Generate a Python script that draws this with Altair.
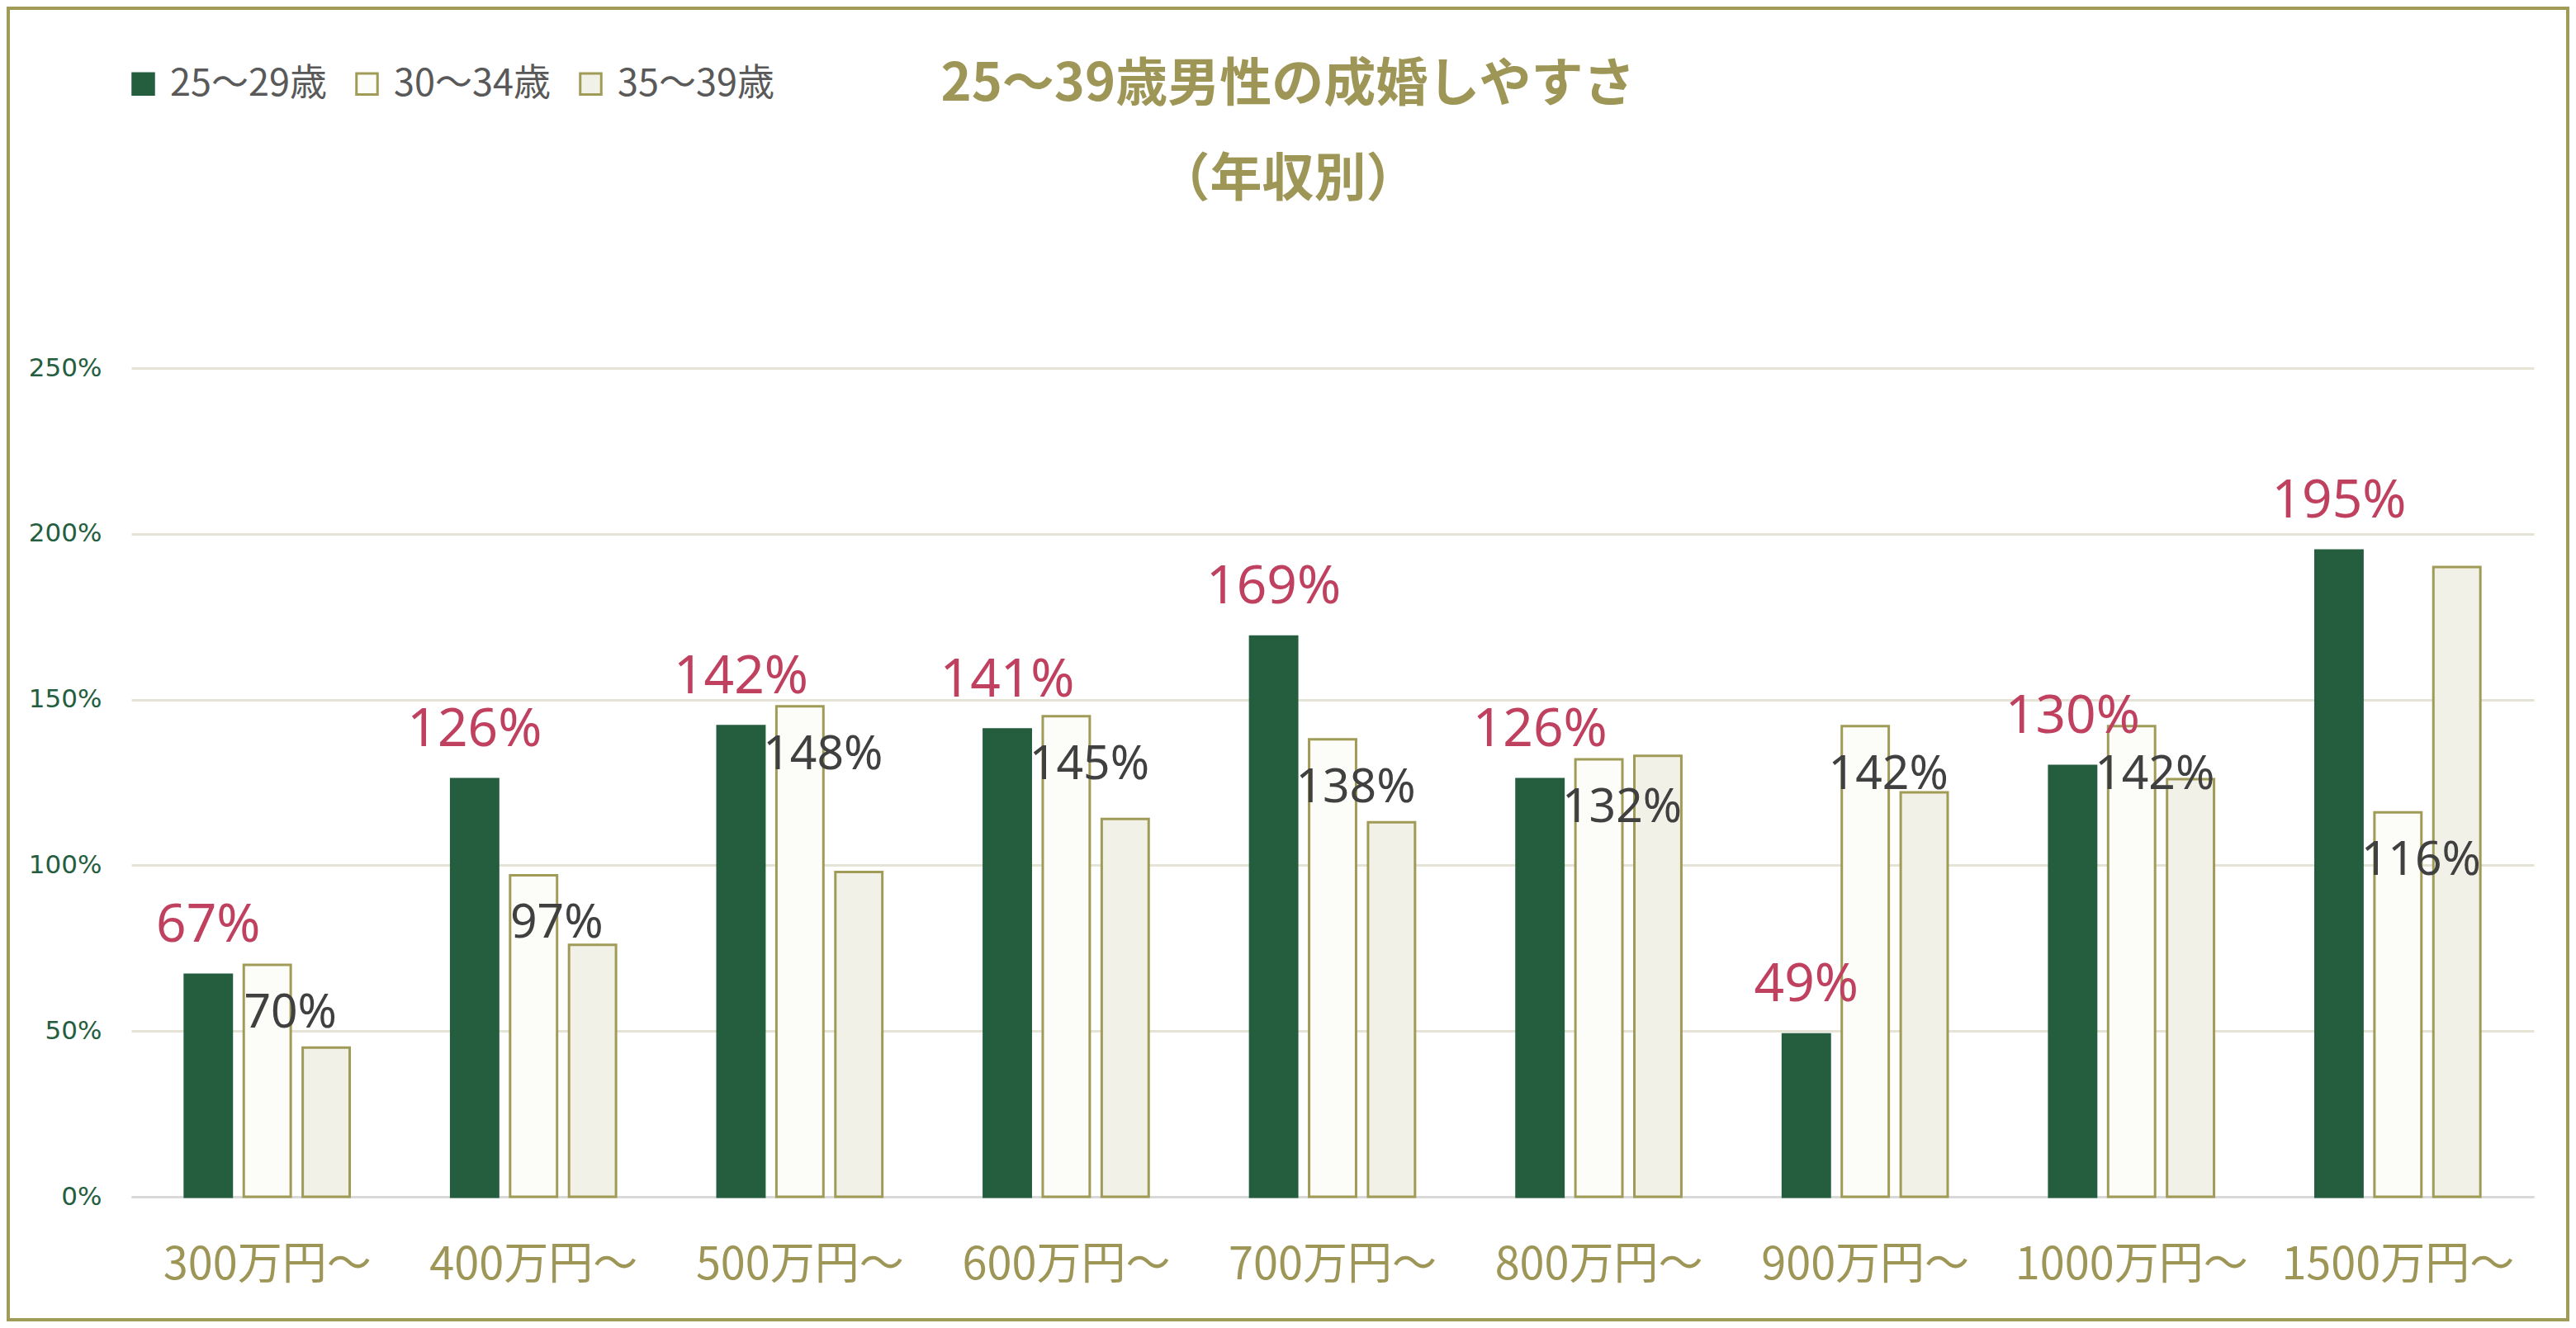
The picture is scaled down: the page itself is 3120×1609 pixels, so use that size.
import altair as alt
import pandas as pd

categories = ["300万円～", "400万円～", "500万円～", "600万円～", "700万円～",
              "800万円～", "900万円～", "1000万円～", "1500万円～"]
series = ["25～29歳", "30～34歳", "35～39歳"]
age_25_29 = [0.67, 1.26, 1.42, 1.41, 1.69, 1.26, 0.49, 1.30, 1.95]
age_30_34 = [0.70, 0.97, 1.48, 1.45, 1.38, 1.32, 1.42, 1.42, 1.16]
age_35_39 = [0.45, 0.76, 0.98, 1.14, 1.13, 1.33, 1.22, 1.26, 1.90]
y_ticks = [0, 0.5, 1.0, 1.5, 2.0, 2.5]

rows = []
for s, vals in zip(series, [age_25_29, age_30_34, age_35_39]):
    for c, v in zip(categories, vals):
        rows.append({"cat": c, "series": s, "value": v})
df = pd.DataFrame(rows)

GREEN = "#245E3F"
OLIVE = "#A09B57"
WHITE_FILL = "#FCFCF9"
BEIGE_FILL = "#F2F1E7"
RED = "#C0415F"
TITLE_C = "#9E9656"

W, H = 2910, 1004
PAD = {"left": 151, "top": 438, "right": 43, "bottom": 151}

cjk = "Noto Sans CJK JP"

x_enc = alt.X("cat:N", sort=categories,
              scale=alt.Scale(paddingInner=0.381, paddingOuter=0.201),
              axis=alt.Axis(title=None, labelAngle=0, ticks=False, grid=False,
                            labelFont=cjk, labelFontSize=54, labelColor=TITLE_C,
                            labelLimit=0, labelPadding=56,
                            domainColor="#D9D9D9", domainWidth=3))
xo_enc = alt.XOffset("series:N", sort=series,
                     scale=alt.Scale(domain=series, paddingInner=0.203, paddingOuter=0))
y_enc = alt.Y("value:Q", scale=alt.Scale(domain=[0, 2.5], nice=False),
              axis=alt.Axis(title=None, values=y_ticks, format=".0%", domain=False,
                            ticks=False, labelFont="DejaVu Sans", labelFontSize=31,
                            labelColor=GREEN, labelPadding=36, gridColor="#E5E3D5",
                            gridWidth=3))

base = alt.Chart(df)

bars = base.mark_bar(strokeWidth=3).encode(
    x=x_enc,
    xOffset=xo_enc,
    y=y_enc,
    color=alt.Color("series:N", sort=series,
                    scale=alt.Scale(domain=series, range=[GREEN, WHITE_FILL, BEIGE_FILL]),
                    legend=alt.Legend(title=None)),
    stroke=alt.Stroke("series:N", sort=series,
                      scale=alt.Scale(domain=series, range=[GREEN, OLIVE, OLIVE]),
                      legend=alt.Legend(title=None)),
)

red_labels = base.transform_filter(alt.datum.series == series[0]).mark_text(
    font="Noto Sans", fontSize=64, color=RED, align="center", baseline="alphabetic", dy=-40
).encode(x=x_enc, xOffset=xo_enc, y=y_enc, text=alt.Text("value:Q", format=".0%"))

grey_labels = base.transform_filter(alt.datum.series == series[1]).mark_text(
    font="Noto Sans", fontSize=57, color="#404040", align="center", baseline="alphabetic",
    dx=28, dy=76
).encode(x=x_enc, xOffset=xo_enc, y=y_enc, text=alt.Text("value:Q", format=".0%"))

frame = alt.Chart(pd.DataFrame({"f": [0]})).mark_rect(
    fillOpacity=0, stroke=OLIVE, strokeWidth=4
).encode(x=alt.value(-149), x2=alt.value(W + 41), y=alt.value(-436), y2=alt.value(H + 149))

chart = alt.layer(bars, red_labels, grey_labels, frame).properties(
    width=W, height=H,
    padding=PAD,
    autosize=alt.AutoSizeParams(type="none"),
    background="white",
    title=alt.TitleParams(
        text=["25～39歳男性の成婚しやすさ", "（年収別）"],
        font=cjk, fontSize=63, fontWeight="bold", color=TITLE_C,
        lineHeight=115, anchor="middle", dx=-54, offset=-242,
    ),
).configure_view(stroke=None).configure_legend(
    orient="none", legendX=-8, legendY=-367, direction="horizontal",
    symbolType="square", symbolSize=650, symbolStrokeWidth=3,
    labelFont=cjk, labelFontSize=45, labelColor="#595959", labelLimit=0,
    labelOffset=10, columnPadding=26, padding=0,
)

chart.save("out.html", embed_options={"renderer": "svg", "actions": False})
